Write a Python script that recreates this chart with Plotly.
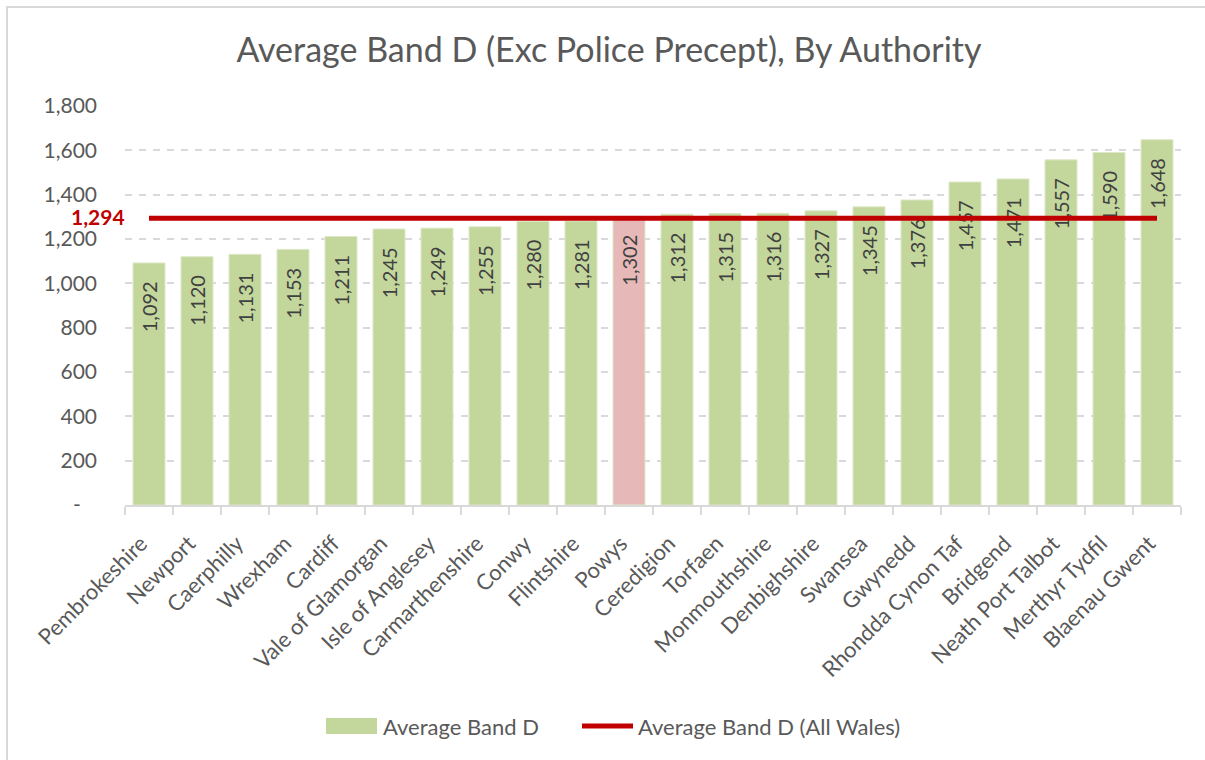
import plotly.graph_objects as go

# Average Band D council tax (excluding police precept) for each Welsh authority
authorities = [
    "Pembrokeshire", "Newport", "Caerphilly", "Wrexham", "Cardiff",
    "Vale of Glamorgan", "Isle of Anglesey", "Carmarthenshire", "Conwy",
    "Flintshire", "Powys", "Ceredigion", "Torfaen", "Monmouthshire",
    "Denbighshire", "Swansea", "Gwynedd", "Rhondda Cynon Taf", "Bridgend",
    "Neath Port Talbot", "Merthyr Tydfil", "Blaenau Gwent",
]
band_d = [
    1092, 1120, 1131, 1153, 1211, 1245, 1249, 1255, 1280, 1281, 1302,
    1312, 1315, 1316, 1327, 1345, 1376, 1457, 1471, 1557, 1590, 1648,
]
all_wales_average = 1294
highlighted = "Powys"

y_tickvals = [0, 200, 400, 600, 800, 1000, 1200, 1400, 1600, 1800]
y_ticktext = ["-\u00a0\u00a0\u00a0", "200", "400", "600", "800", "1,000",
              "1,200", "1,400", "1,600", "1,800"]

FONT = "Lato"
TEXT_GREY = "#595959"
GREEN = "#C3D69B"
PINK = "#E6B9B8"
RED = "#C00000"
GRID = "#D9D9D9"

W, H = 1205, 760
M_L, M_R, M_T, M_B = 125, 24, 106, 255
PW, PH = W - M_L - M_R, H - M_T - M_B


def px_x(px):
    return (px - M_L) / PW


def px_y(py):
    return (H - M_B - py) / PH


bar_colors = [PINK if a == highlighted else GREEN for a in authorities]

fig = go.Figure()
fig.add_trace(go.Bar(
    x=authorities,
    y=band_d,
    name="Average Band D",
    marker=dict(color=bar_colors, line=dict(color="#DDE8C6", width=1)),
    texttemplate="%{y:,.0f}\u00a0\u00a0\u00a0",
    textposition="inside",
    insidetextanchor="end",
    textangle=-90,
    constraintext="none",
    textfont=dict(family=FONT, size=20, color="#404040"),
    showlegend=False,
    hoverinfo="skip",
))
fig.add_trace(go.Scatter(
    x=authorities,
    y=[all_wales_average] * len(authorities),
    mode="lines",
    name="Average Band D (All Wales)",
    line=dict(color=RED, width=5),
    showlegend=False,
    hoverinfo="skip",
))

shapes = [
    # chart frame (left and top edges visible)
    dict(type="rect", xref="paper", yref="paper",
         x0=px_x(7), x1=px_x(W + 20), y0=px_y(H + 20), y1=px_y(7),
         line=dict(color=GRID, width=2), fillcolor="rgba(0,0,0,0)", layer="below"),
    # legend swatches
    dict(type="rect", xref="paper", yref="paper",
         x0=px_x(326), x1=px_x(377), y0=px_y(734), y1=px_y(718),
         line=dict(width=0), fillcolor=GREEN),
    dict(type="line", xref="paper", yref="paper",
         x0=px_x(582), x1=px_x(633), y0=px_y(726), y1=px_y(726),
         line=dict(color=RED, width=5)),
]

annotations = [
    dict(x=authorities[0], y=all_wales_average, xref="x", yref="y",
         text=f"<b>{all_wales_average:,}</b>", showarrow=False,
         xanchor="right", yanchor="middle", xshift=-22, yshift=2,
         font=dict(family=FONT, size=21, color=RED)),
    dict(x=px_x(381), y=px_y(726), xref="paper", yref="paper",
         text="Average Band D", showarrow=False, xanchor="left", yanchor="middle",
         font=dict(family=FONT, size=22, color=TEXT_GREY)),
    dict(x=px_x(636), y=px_y(726), xref="paper", yref="paper",
         text="Average Band D (All Wales)", showarrow=False, xanchor="left",
         yanchor="middle", font=dict(family=FONT, size=22, color=TEXT_GREY)),
]

fig.update_layout(
    width=W, height=H,
    margin=dict(l=M_L, r=M_R, t=M_T, b=M_B),
    paper_bgcolor="white", plot_bgcolor="white",
    bargap=1 / 3,
    title=dict(text="Average Band D (Exc Police Precept), By Authority",
               x=px_x(609), xref="paper", xanchor="center",
               y=1 - 50 / H, yanchor="middle",
               font=dict(family=FONT, size=34, color=TEXT_GREY)),
    font=dict(family=FONT, size=20, color=TEXT_GREY),
    shapes=shapes,
    annotations=annotations,
    showlegend=False,
)
fig.update_xaxes(
    type="category",
    range=[-0.5, len(authorities) - 0.5],
    autorange=False,
    tickangle=-45,
    tickfont=dict(family=FONT, size=22, color=TEXT_GREY),
    showline=True, linecolor=GRID, linewidth=2,
    ticks="outside", tickson="boundaries", ticklen=8, tickcolor=GRID, tickwidth=2,
    ticklabelstandoff=15, ticklabelshift=-8,
    showgrid=False,
)
fig.update_yaxes(
    range=[0, 1800],
    autorange=False,
    tickvals=y_tickvals, ticktext=y_ticktext,
    tickfont=dict(family=FONT, size=21, color=TEXT_GREY),
    showgrid=True, gridcolor=GRID, gridwidth=2, griddash="7px,7px",
    zeroline=False, showline=False,
    ticks="", ticklabelstandoff=27,
)

fig.write_html("out.html")
